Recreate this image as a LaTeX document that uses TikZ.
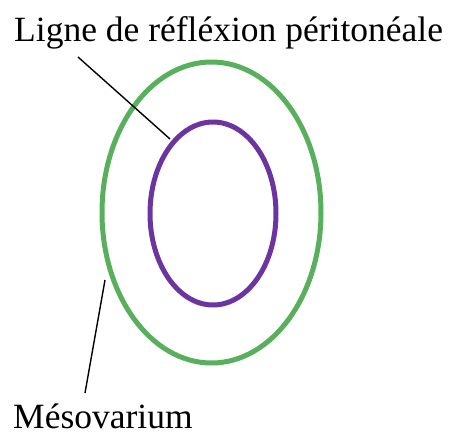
\documentclass[tikz,border=0pt]{standalone}
\usepackage{fontspec}
\setmainfont{Liberation Serif}
\definecolor{outergreen}{RGB}{88,176,92}
\definecolor{innerpurple}{RGB}{108,52,158}
\begin{document}
\begin{tikzpicture}[x=1pt,y=-1pt,
  lbl/.style={font=\fontsize{35.5}{40}\selectfont, inner sep=0pt, anchor=base west},
  leader/.style={draw=black, line width=1.4pt},
  ring/.style={line width=5pt}]
\useasboundingbox (0,0) rectangle (453,432);
\draw[ring, outergreen] (211.5,212.5) ellipse [x radius=109.5, y radius=150.5];
\draw[ring, innerpurple] (213,213.5) ellipse [x radius=63, y radius=91.5];
\node[lbl] (top) at (14,41) {Ligne de réfléxion péritonéale};
\node[lbl] (bot) at (13,428) {Mésovarium};
\coordinate (t1) at (78,57);
\coordinate (t2) at (170,139);
\coordinate (b1) at (105,280);
\coordinate (b2) at (85,393);
\draw[leader] (t1) -- (t2);
\draw[leader] (b1) -- (b2);
\end{tikzpicture}
\end{document}
